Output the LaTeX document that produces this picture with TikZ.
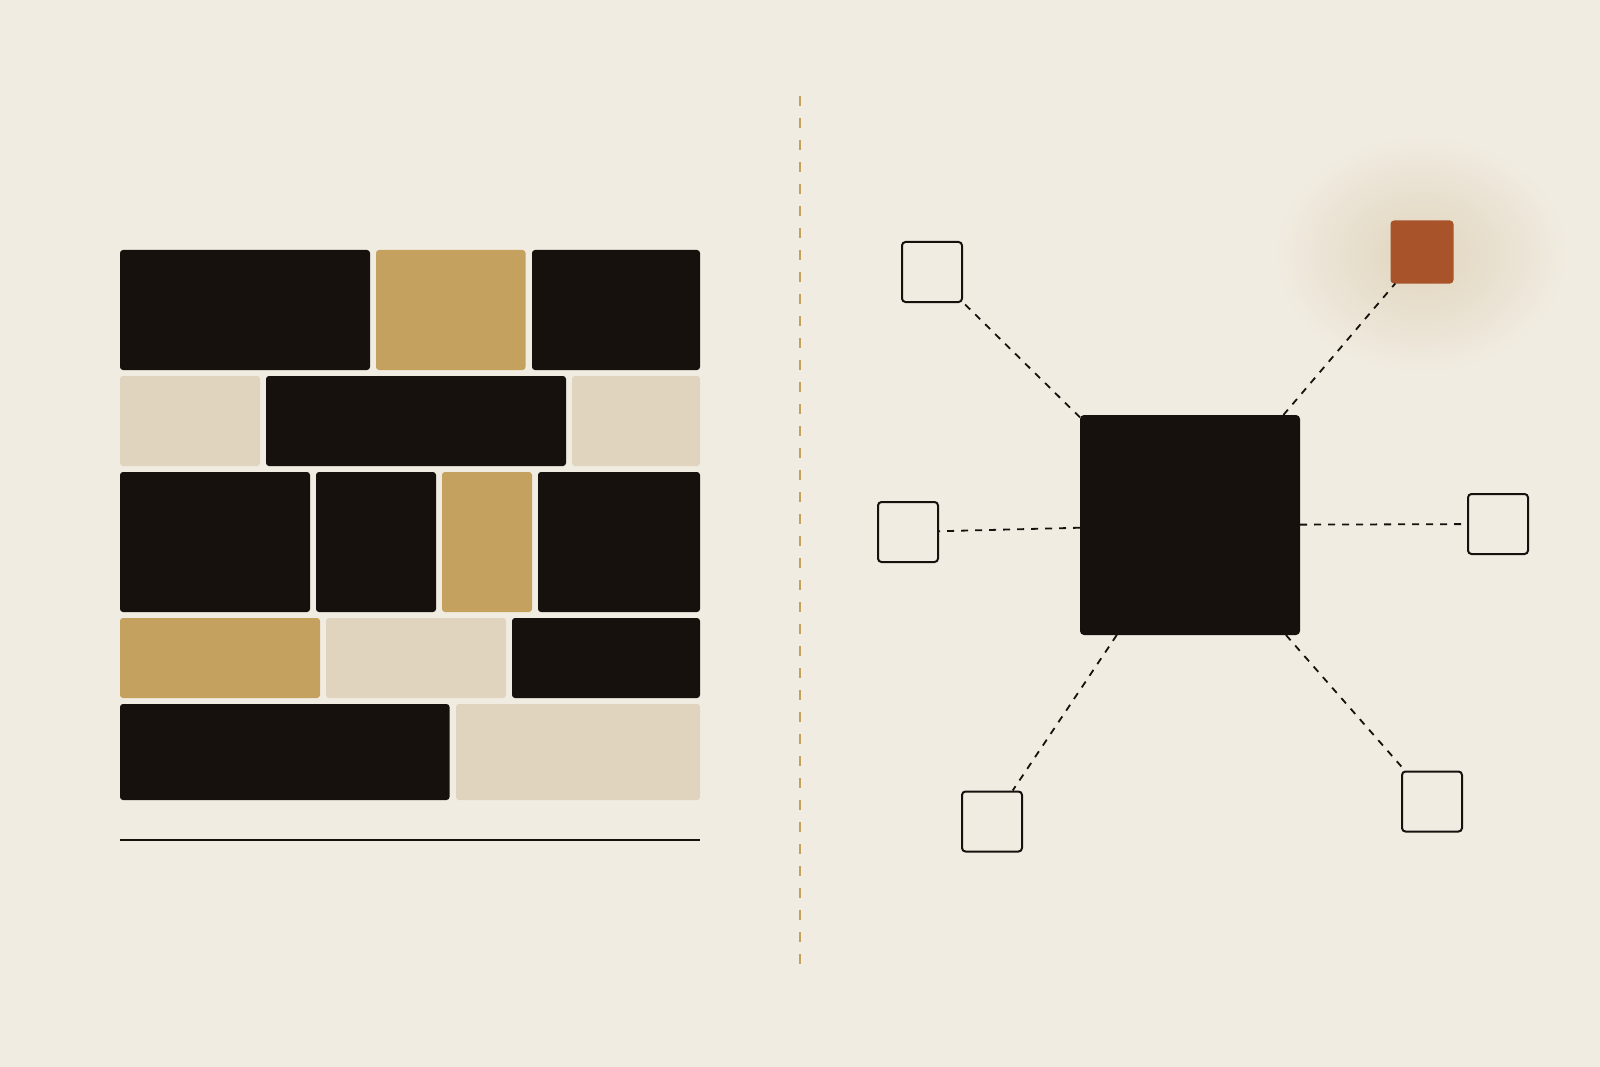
\documentclass[tikz,border=0pt]{standalone}
\definecolor{bgc}{HTML}{F1ECE2}
\definecolor{darkc}{HTML}{16110D}
\definecolor{goldc}{HTML}{C4A15E}
\definecolor{lightc}{HTML}{E0D4BE}
\definecolor{orangec}{HTML}{A8532A}
\definecolor{glowc}{HTML}{E4DAC6}
\colorlet{glowm}{glowc!55!bgc}
\pgfdeclareradialshading{glowsh}{\pgfpoint{0bp}{0bp}}{color(0bp)=(glowc); color(6bp)=(glowc); color(15bp)=(glowm); color(25bp)=(bgc); color(50bp)=(bgc)}
\begin{document}
\begin{tikzpicture}[x=1pt,y=-1pt,
  tiledark/.style={fill=darkc, rounded corners=3pt},
  tilegold/.style={fill=goldc, rounded corners=3pt},
  tilelight/.style={fill=lightc, rounded corners=3pt},
  hub/.style={rectangle, fill=darkc, rounded corners=4pt, minimum width=220pt, minimum height=220pt, inner sep=0pt, outer sep=0pt},
  leaf/.style={rectangle, draw=darkc, line width=2pt, rounded corners=3.5pt, minimum width=60pt, minimum height=60pt, inner sep=0pt},
  hotleaf/.style={rectangle, fill=orangec, rounded corners=3.5pt, minimum width=63pt, minimum height=63pt, inner sep=0pt, outer sep=0pt},
  conn/.style={draw=darkc, line width=1.8pt, dash pattern=on 7pt off 7pt},
  divider/.style={draw=goldc, line width=1.8pt, dash pattern=on 10pt off 12pt}]
\useasboundingbox (0,0) rectangle (1600,1067);
\fill[bgc] (0,0) rectangle (1600,1067);

% glow behind the highlighted node
\shade[shading=glowsh] (1421,254) ellipse [x radius=148, y radius=120];

% left: tile wall
\fill[tiledark]  (120,250) rectangle (370,370);
\fill[tilegold]  (376,250) rectangle (525.5,370);
\fill[tiledark]  (532,250) rectangle (700,370);

\fill[tilelight] (120,376) rectangle (260,466);
\fill[tiledark]  (266,376) rectangle (566,466);
\fill[tilelight] (572,376) rectangle (700,466);

\fill[tiledark]  (120,472) rectangle (310,612);
\fill[tiledark]  (316,472) rectangle (436,612);
\fill[tilegold]  (442,472) rectangle (532,612);
\fill[tiledark]  (538,472) rectangle (700,612);

\fill[tilegold]  (120,618) rectangle (320,698);
\fill[tilelight] (326,618) rectangle (506,698);
\fill[tiledark]  (512,618) rectangle (700,698);

\fill[tiledark]  (120,704) rectangle (449.5,800);
\fill[tilelight] (456,704) rectangle (700,800);

\coordinate (baseL) at (120,840);
\coordinate (baseR) at (700,840);
\draw[darkc, line width=2pt] (baseL) -- (baseR);

% divider
\coordinate (divT) at (800,96);
\coordinate (divB) at (800,964);
\draw[divider] (divT) -- (divB);

% right: hub and spokes
\node[hub] (c) at (1190,525) {};
\node[leaf] (tl) at (932,272) {};
\node[leaf] (l) at (908,532) {};
\node[leaf] (r) at (1498,524) {};
\node[leaf] (bl) at (992,821.5) {};
\node[leaf] (br) at (1432,801.5) {};
\node[hotleaf] (tr) at (1422,252) {};

\draw[conn] (c) -- (tl);
\draw[conn] (c) -- (l);
\draw[conn] (c) -- (r);
\draw[conn] (c) -- (bl);
\draw[conn] (c) -- (br);
\draw[conn] (c) -- (tr);
\end{tikzpicture}
\end{document}
